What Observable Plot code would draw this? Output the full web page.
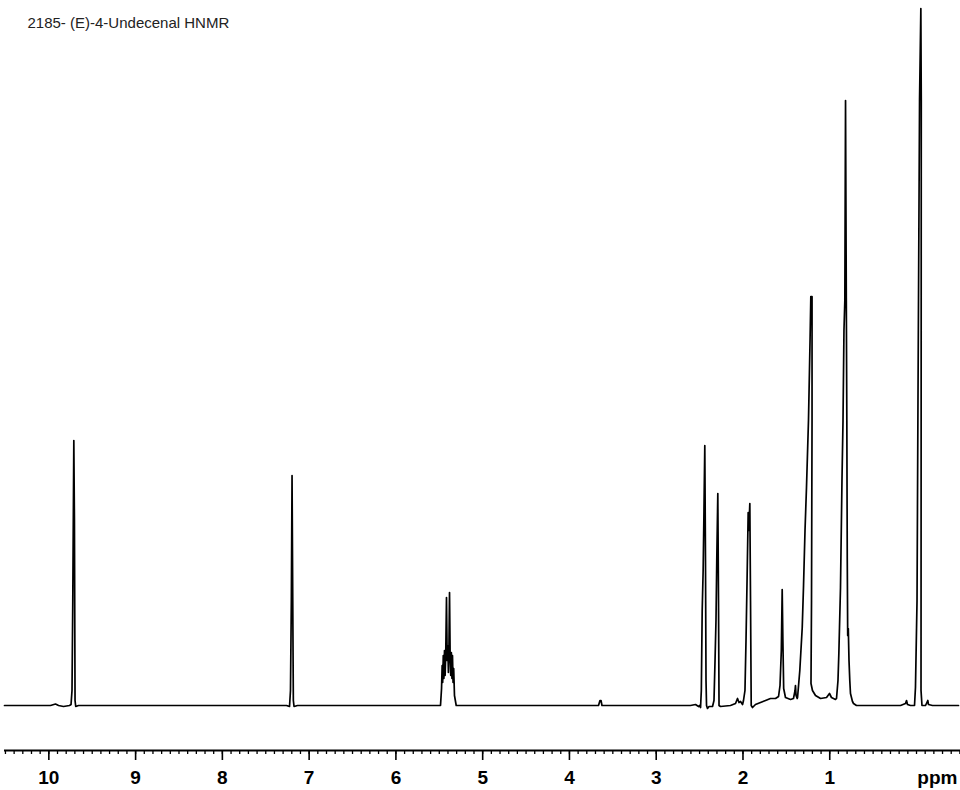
<!DOCTYPE html>
<html>
<head>
<meta charset="utf-8">
<script src="https://cdn.jsdelivr.net/npm/d3@7"></script>
<script src="https://cdn.jsdelivr.net/npm/@observablehq/plot@0.6"></script>
<style>
  html, body { margin: 0; padding: 0; background: #fff; }
  #chart svg { display: block; }
</style>
</head>
<body>
<div id="chart"></div>
<script>
// Title
const title = "2185- (E)-4-Undecenal HNMR";

// Spectrum trace: chemical shift (ppm) and intensity (arbitrary units)
const ppm = [
  10.511, 9.981, 9.923, 9.888, 9.831, 9.762,
  9.744, 9.733, 9.724, 9.712, 9.705, 9.698, 9.690, 9.658,
  7.261, 7.226, 7.215, 7.205, 7.197, 7.189, 7.182, 7.174, 7.134,
  5.532, 5.486, 5.474, 5.467, 5.461, 5.454, 5.447, 5.440, 5.433, 5.426, 5.417,
  5.409, 5.402, 5.395, 5.389, 5.382, 5.375, 5.368, 5.361, 5.354, 5.348, 5.341,
  5.334, 5.325, 5.305,
  3.665, 3.648, 3.636, 3.625,
  2.605, 2.547, 2.512, 2.501, 2.489, 2.480, 2.470, 2.459, 2.451, 2.440, 2.432, 2.426, 2.420, 2.409, 2.391,
  2.351, 2.334, 2.322, 2.311, 2.302, 2.290, 2.282, 2.276, 2.259,
  2.144, 2.086, 2.063, 2.046, 2.028, 2.005,
  1.994, 1.977, 1.965, 1.953, 1.940, 1.933, 1.921, 1.913, 1.905, 1.890, 1.856,
  1.798, 1.740, 1.683, 1.625, 1.590,
  1.573, 1.558, 1.548, 1.540, 1.531, 1.510, 1.452, 1.418,
  1.400, 1.395, 1.388, 1.375,
  1.371, 1.345, 1.317, 1.302, 1.285, 1.268, 1.245, 1.227, 1.218, 1.204, 1.204, 1.210, 1.216,
  1.199, 1.164, 1.106, 1.037, 1.003, 0.980, 0.934,
  0.922, 0.905, 0.895, 0.876, 0.859, 0.847, 0.836, 0.826, 0.818, 0.809, 0.803, 0.798, 0.793,
  0.786, 0.778, 0.769, 0.761, 0.738, 0.726, 0.692, 0.645,
  0.184, 0.127, 0.115, 0.104, 0.069, 0.023,
  0.012, -0.006, -0.017, -0.035, -0.050, -0.055, -0.053, -0.052, -0.063,
  -0.104, -0.130, -0.138, -0.184, -0.484
];
const intensity = [
  0, 0, 1.5, 0, -1, 0,
  1, 15, 105, 265, 185, 5, -1, 0,
  0, -1, 15, 105, 230, 105, 5, -1, 0,
  0, 0, 17, 40, 23, 50, 27, 55, 30, 50, 108,
  45, 60, 33, 55, 113, 50, 30, 53, 27, 50, 23,
  37, 10, 0,
  0, 5, 5, 0,
  0, 1, -1, 0, -2, 15, 95, 135, 185, 260, 145, 25, 0, -3, -1,
  -1, 5, 45, 85, 145, 212, 105, 0, -1,
  0, 2, 7, 3, 4, 1,
  5, 15, 65, 125, 193, 175, 202, 105, 0, -2, 1,
  3, 5, 7, 7, 9,
  20, 55, 116, 65, 17, 8, 6, 7,
  15, 20, 10, 7,
  8, 35, 78, 120, 175, 218, 285, 365, 409, 409, 285, 105, 22,
  15, 10, 7, 8, 12, 8, 6,
  7, 25, 52, 118, 225, 285, 375, 405, 605, 405, 285, 145, 70,
  77, 45, 25, 12, 4, 2, 0, 0,
  0, 2, 5, 1, 0, 0,
  18, 105, 305, 605, 697, 605, 205, 15, 0,
  0, 5, 1, 0, 0
];

// Axis ticks
const majorTicks = [10, 9, 8, 7, 6, 5, 4, 3, 2, 1];
const majorLabels = ["10", "9", "8", "7", "6", "5", "4", "3", "2", "1"];
const minorTicks = d3.range(-5, 106).map(i => i / 10);
const unitLabel = ["ppm"];
const unitPos = [-0.24];

const spectrum = ppm.map((p, i) => ({ppm: p, intensity: intensity[i]}));
const labelOf = new Map(majorTicks.map((t, i) => [t, majorLabels[i]]));

const font = "'Liberation Sans', Arial, Helvetica, sans-serif";

const chart = Plot.plot({
  width: 960,
  height: 790,
  marginLeft: 4,
  marginRight: 0,
  marginTop: 8,
  marginBottom: 40,
  style: {fontFamily: font, background: "#fff", color: "#000"},
  x: {domain: [10.511, -0.507]},
  y: {domain: [-45, 697], axis: null},
  marks: [
    Plot.ruleY([-45], {stroke: "#000", strokeWidth: 2}),
    Plot.axisX({ticks: minorTicks, tickSize: 4, tickFormat: () => "", strokeWidth: 1.3, label: null}),
    Plot.axisX({ticks: majorTicks, tickSize: 10, tickPadding: 10, tickFormat: d => labelOf.get(d),
      strokeWidth: 1.6, fontSize: 19, fontWeight: "bold", fill: "#000", label: null}),
    Plot.text(unitLabel, {x: unitPos, frameAnchor: "bottom", dy: 20, lineAnchor: "top",
      text: d => d, fontSize: 19, fontWeight: "bold", fill: "#000"}),
    Plot.line(spectrum, {x: "ppm", y: "intensity", stroke: "#000", strokeWidth: 1.7}),
    Plot.text([title], {frameAnchor: "top-left", textAnchor: "start", lineAnchor: "top",
      dx: 23, dy: 9, text: d => d, fontSize: 15, fill: "#222", fontWeight: "normal"})
  ]
});
document.getElementById("chart").appendChild(chart);
</script>
</body>
</html>
